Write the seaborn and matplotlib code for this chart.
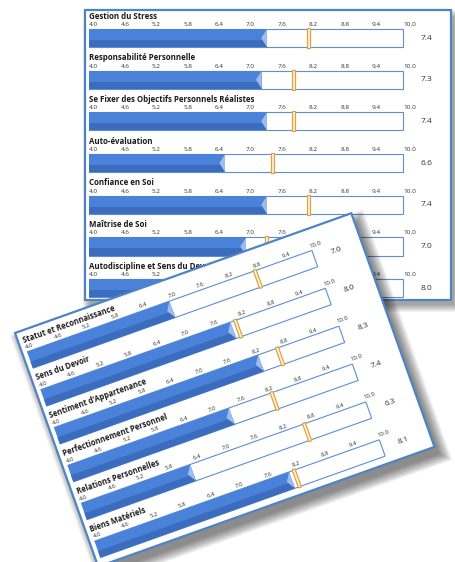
import numpy as np
import matplotlib
matplotlib.use("Agg")
import matplotlib.pyplot as plt
import seaborn as sns
from matplotlib.patches import Rectangle, Polygon
from matplotlib.transforms import Affine2D, IdentityTransform

# ---------------- data ----------------
card1_labels = ["Gestion du Stress", "Responsabilité Personnelle",
                "Se Fixer des Objectifs Personnels Réalistes", "Auto-évaluation",
                "Confiance en Soi", "Maîtrise de Soi", "Autodiscipline et Sens du Devoir"]
card1_scores = [7.4, 7.3, 7.4, 6.6, 7.4, 7.0, 8.0]
card1_targets = [8.2, 7.9, 7.9, 7.5, 8.2, 7.4, 8.6]

card2_labels = ["Statut et Reconnaissance", "Sens du Devoir", "Sentiment d'Appartenance",
                "Perfectionnement Personnel", "Relations Personnelles", "Biens Matériels"]
card2_scores = [7.0, 8.0, 8.3, 7.4, 6.3, 8.1]
card2_targets = [8.8, 8.1, 8.7, 8.3, 8.7, 8.2]

tick_values = [4.0, 4.6, 5.2, 5.8, 6.4, 7.0, 7.6, 8.2, 8.8, 9.4, 10.0]
scale_min = 4.0
scale_max = 10.0

# ---------------- style ----------------
BAR_LIGHT = "#4a82d9"
BAR_DARK = "#3c6cbe"
NOTCH = "#9ebdee"
TRACK_EDGE = "#5c90d4"
FRAME = "#4f84c4"
MARK_EDGE = "#e2a23f"
MARK_FILL = "#fff3dd"

sns.set_theme(style="white")
plt.rcParams["font.family"] = ["Open Sans", "DejaVu Sans"]

W, H = 456, 562
fig = plt.figure(figsize=(W / 100, H / 100), dpi=100)
fig.patch.set_facecolor("white")


def px_axes(left, top, width, height):
    return fig.add_axes([left / W, (H - top - height) / H, width / W, height / H])


def draw_card(ax, labels, scores, targets, rot, angle, box, x0_px, ppu, row0_px, row_px,
              fscale, shadow_off, shadow_layers, shadow_alpha):
    n = len(labels)
    left, top, width, height = box
    bar_h = 0.432
    track = np.full(n, scale_max)
    sns.barplot(x=track, y=labels, orient="h", width=bar_h, color="white", saturation=1,
                edgecolor=TRACK_EDGE, linewidth=0.8, errorbar=None, ax=ax, zorder=2)
    sns.barplot(x=scores, y=labels, orient="h", width=bar_h, color=BAR_LIGHT, saturation=1,
                linewidth=0, errorbar=None, ax=ax, zorder=3)
    tracks = list(ax.patches[:n])
    bars = list(ax.patches[n:2 * n])
    clipped = tracks + bars
    notch_w = 0.11
    for p in bars:
        x, y, w, h = p.get_x(), p.get_y(), p.get_width(), p.get_height()
        dark = Rectangle((x, y + h * 0.6), w, h * 0.4, facecolor=BAR_DARK, lw=0, zorder=3.1)
        ax.add_patch(dark)
        clipped.append(dark)
        ax.add_patch(Polygon([(x + w, y), (x + w - notch_w, y + h / 2), (x + w, y + h)],
                             closed=True, facecolor=NOTCH, lw=0, zorder=3.2))
    mw, mh = 0.06, 0.48
    for i, t in enumerate(targets):
        ax.add_patch(Rectangle((t - mw / 2, i - mh / 2), mw, mh, facecolor=MARK_FILL,
                               edgecolor=MARK_EDGE, lw=0.9, zorder=4))
    for i, (lab, s) in enumerate(zip(labels, scores)):
        ax.text(scale_min, i - 0.463, lab, fontsize=5.7 * fscale, fontweight="bold",
                color="#1a1a1a", ha="left", va="baseline")
        for tv in tick_values:
            ax.text(tv, i - 0.29, f"{tv:.1f}", fontsize=4.6 * fscale, color="#333333",
                    ha="left", va="baseline")
        ax.text(10.45, i, f"{s:.1f}", fontsize=6.0 * fscale, color="#333333",
                ha="center", va="center")

    xmin = scale_min - x0_px / ppu
    xmax = scale_min + (width - x0_px) / ppu
    ytop = -row0_px / row_px
    ybot = (height - row0_px) / row_px
    ax.set_xlim(xmin, xmax)
    ax.set_ylim(ybot, ytop)
    ax.axis("off")

    # polygon clip (a Rectangle would be reduced to an axis-aligned box)
    clip = Polygon([(scale_min, ytop - 1), (xmax + 5, ytop - 1), (xmax + 5, ybot + 1),
                    (scale_min, ybot + 1)], closed=True, transform=ax.transData + rot)
    for p in ax.patches:
        p.set_transform(p.get_data_transform() + rot)
        if p in clipped:
            p.set_clip_box(None)
            p.set_clip_path(clip)
        else:
            p.set_clip_on(False)
    for t in ax.texts:
        t.set_transform(t.get_transform() + rot)
        t.set_rotation(angle)
        t.set_rotation_mode("anchor")
        t.set_clip_on(False)

    # card background and frame (display pixel coords, then rotated)
    bx0, by0 = left, H - top - height
    frame = Rectangle((bx0, by0), width, height, facecolor="white", edgecolor=FRAME,
                      lw=1.6, zorder=1, transform=IdentityTransform() + rot)
    frame.set_clip_on(False)
    ax.add_artist(frame)
    dx, dy = shadow_off
    for k in range(shadow_layers):
        g = k * 1.0
        sh = Rectangle((bx0 - g + 2, by0 - g), width + 2 * g - 2, height + 2 * g - 2,
                       facecolor="#000000", edgecolor="none", alpha=shadow_alpha,
                       zorder=0.5,
                       transform=IdentityTransform() + rot + Affine2D().translate(dx, dy))
        sh.set_clip_on(False)
        ax.add_artist(sh)


# ---------- top (straight) card ----------
box1 = (85, 10, 366, 290)
ax1 = px_axes(*box1)
ax1.set_zorder(1)
draw_card(ax1, card1_labels, card1_scores, card1_targets, Affine2D(), 0.0, box1,
          x0_px=4, ppu=52.33, row0_px=28, row_px=41.7, fscale=1.0,
          shadow_off=(3, -5), shadow_layers=8, shadow_alpha=0.05)

# ---------- rotated card ----------
angle = 19.6
box2 = (15, 333, 357, 248)
rot2 = Affine2D().rotate_deg_around(15, H - 333, angle)
ax2 = px_axes(*box2)
ax2.set_zorder(5)
draw_card(ax2, card2_labels, card2_scores, card2_targets, rot2, angle, box2,
          x0_px=5, ppu=50.4, row0_px=30.5, row_px=40.2, fscale=0.964,
          shadow_off=(5, -7), shadow_layers=11, shadow_alpha=0.05)

fig.savefig("out.png", dpi=100, facecolor="white")
